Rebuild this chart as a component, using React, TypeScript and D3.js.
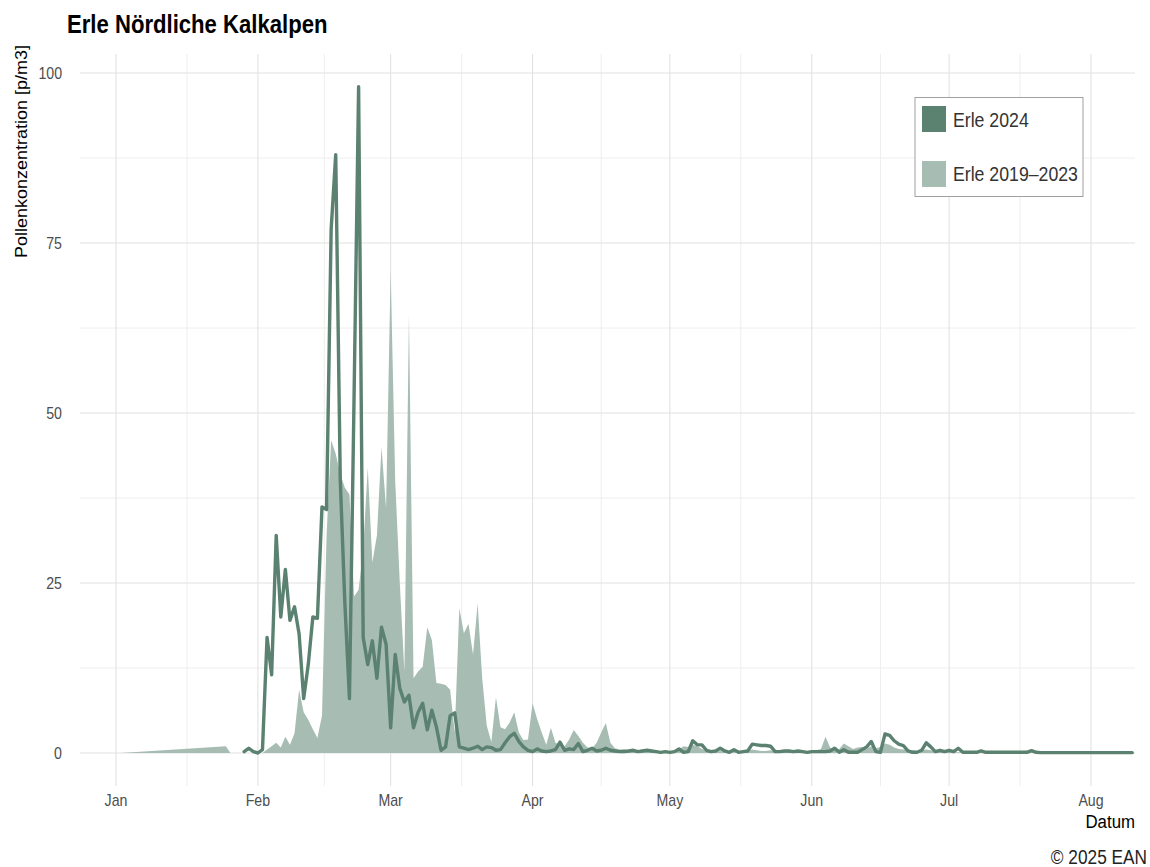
import React from "react";
import * as d3 from "d3";

// ---------- data ----------
const monthLabels = ["Jan", "Feb", "Mar", "Apr", "May", "Jun", "Jul", "Aug"];
const monthStartDays = [0, 31, 60, 91, 121, 152, 182, 213];
const yTicks = [0, 25, 50, 75, 100];
const yMinor = [12.5, 37.5, 62.5, 87.5];

// Erle 2024, daily values starting at day-of-year 28
const erle2024Start = 28;
const erle2024 = [
  0.2, 0.7, 0.2, 0.0, 0.5,
  17, 11.5, 32, 20, 27, 19.5, 21.5, 17.5, 8, 13, 20, 19.8, 36.2, 35.8, 77, 88,
  40, 22, 8, 52, 98, 17, 13, 16.5, 11, 18.5, 16,
  3.7, 14.5, 9.5, 7.5, 8.5, 3.7, 6, 7.3, 3.4, 6.3, 3.8,
  0.4, 0.9, 5.5, 5.9, 0.9, 0.7, 0.5, 0.7, 1.0, 0.5,
  0.9, 0.8, 0.4, 0.5, 1.5, 2.4, 2.9, 1.7, 0.9, 0.4,
  0.2, 0.6, 0.3, 0.2, 0.3, 0.5, 1.6, 0.4, 0.6, 0.5,
  1.4, 0.2, 0.4, 0.7, 0.3, 0.4, 0.7, 0.4, 0.3, 0.2,
  0.2, 0.3, 0.4, 0.2, 0.3, 0.4, 0.3, 0.2, 0.1, 0.2,
  0.1, 0.2, 0.6, 0.1, 0.2, 1.8, 1.2, 1.2, 0.4, 0.2,
  0.3, 0.7, 0.3, 0.1, 0.5, 0.1, 0.2, 0.3, 1.3, 1.2,
  1.1, 1.1, 1.0, 0.2, 0.2, 0.3, 0.3, 0.2, 0.3, 0.2,
  0.1, 0.2, 0.2, 0.2, 0.2, 0.3, 0.7, 0.1, 0.5, 0.1,
  0.1, 0.1, 0.5, 0.9, 1.7, 0.2, 0.1, 2.8, 2.6, 1.8,
  1.3, 1.1, 0.3, 0.1, 0.1, 0.4, 1.5, 0.9, 0.2, 0.4,
  0.2, 0.4, 0.2, 0.7, 0.1, 0.1, 0.1, 0.1, 0.3, 0.1,
  0.1, 0.1, 0.1, 0.1, 0.1, 0.1, 0.1, 0.1, 0.1, 0.35,
  0.1, 0.05, 0.05, 0.05, 0.05, 0.05, 0.05, 0.05, 0.05, 0.05,
  0.05, 0.05, 0.05, 0.05, 0.05, 0.05, 0.05, 0.05, 0.05, 0.05,
  0.05, 0.05,
];

// Erle 2019–2023: sparse early points, then daily values from day 33
const erle5yEarly: [number, number][] = [[1, 0], [24, 1.0], [25, 0], [32, 0]];
const erle5yStart = 33;
const erle5y = [
  0.5, 1.0, 1.5, 0.8, 2.4, 1.2, 2.9,
  9.3, 6, 4.9, 3.5, 2.2, 5.5, 32, 46, 44,
  41, 39, 38, 23, 24, 30, 42, 28, 32, 45, 36,
  71, 40, 25, 12, 64.5, 11, 12, 12.7, 18.5, 16.6, 10.3,
  10.2, 10, 9.3, 3, 21.3, 17.6, 19, 14.5, 22, 11,
  4, 1.6, 8.2, 3.8, 3.5, 4.5, 6, 3, 1.9, 2,
  7.3, 5, 3, 1.2, 3.7, 1.5, 1.2, 1.0, 2, 3.4,
  2.5, 1.5, 0.8, 0.7, 1.5, 3, 4.4, 1.5, 0.7, 0.5,
  0.6, 0.4, 0.5, 0.4, 0.5, 0.6, 0.4, 0.3, 0.3, 0.2,
  0.2, 0.3, 0.5, 1.0, 0.9, 1.2, 1.0, 0.6, 0.4, 0.3,
  0.2, 0.3, 0.2, 0.2, 0.3, 0.2, 0.2, 0.3, 0.5, 0.4,
  0.3, 0.3, 0.4, 0.2, 0.2, 0.3, 0.2, 0.2, 0.3, 0.2,
  0.3, 0.3, 0.4, 0.6, 2.4, 0.8, 0.4, 0.6, 1.4, 1.0,
  0.6, 0.8, 0.9, 0.6, 1.0, 0.7, 0.9, 1.4, 1.2, 0.8,
  0.6, 0.5, 0.5, 0.4, 0.3, 0.4, 0.5, 0.4, 0.3, 0.3,
  0.2, 0.2, 0.1, 0.1, 0.1, 0.1, 0.1, 0.1, 0.1, 0.1,
  0.1, 0.1, 0.1, 0.1, 0.1, 0.1, 0.1, 0.1, 0.1, 0.1,
  0.1, 0.1, 0.1, 0.1, 0.1, 0.1, 0.1, 0.1, 0.1, 0.1,
  0.1, 0.1, 0.1, 0.1, 0.1, 0.1, 0.1, 0.1, 0.1, 0.1,
  0.1, 0.1,
];

const legendLabels = ["Erle 2024", "Erle 2019\u20132023"];

// ---------- styles ----------
const DARK = "#5b8171";
const LIGHT = "#a7bdb3";
const FONT = "'Liberation Sans', Arial, Helvetica, sans-serif";
const SX = 0.885; // horizontal text compression seen in the reference

const W = 1150;
const H = 867;
const panel = { left: 80, right: 1135, top: 54, bottom: 786 };

function T(props: {
  x: number; y: number; size: number; anchor?: string; weight?: string | number;
  fill?: string; rotate?: boolean; children: React.ReactNode;
}) {
  const { x, y, size, anchor = "start", weight = "normal", fill = "#000", rotate = false, children } = props;
  return (
    <text
      transform={`translate(${x},${y}) scale(${SX},1)${rotate ? " rotate(-90)" : ""}`}
      textAnchor={anchor}
      fontSize={size}
      fontWeight={weight}
      fill={fill}
      fontFamily={FONT}
    >
      {children}
    </text>
  );
}

export default function App() {
  const x = d3.scaleLinear().domain([0, 213]).range([116, 1091]);
  const y = d3.scaleLinear().domain([0, 100]).range([753, 73]);

  const linePts: [number, number][] = erle2024.map((v, i) => [erle2024Start + i, v]);
  const areaPts: [number, number][] = [
    ...erle5yEarly,
    ...erle5y.map((v, i) => [erle5yStart + i, v] as [number, number]),
  ];

  const lineGen = d3.line<[number, number]>().x((d) => x(d[0])).y((d) => y(d[1]));
  const areaGen = d3
    .area<[number, number]>()
    .x((d) => x(d[0]))
    .y0(y(0))
    .y1((d) => y(d[1]));

  const minorX = monthStartDays.slice(0, -1).map((d, i) => (d + monthStartDays[i + 1]) / 2);

  return (
    <svg width={W} height={H} style={{ position: "absolute", left: 0, top: 0, background: "#fff" }}>
      <rect x={0} y={0} width={W} height={H} fill="#fff" />
      {/* grid */}
      <g>
        {yMinor.map((t) => (
          <line key={"ym" + t} x1={panel.left} x2={panel.right} y1={y(t)} y2={y(t)} stroke="#ececec" strokeWidth={0.9} />
        ))}
        {minorX.map((d) => (
          <line key={"xm" + d} x1={x(d)} x2={x(d)} y1={panel.top} y2={panel.bottom} stroke="#ececec" strokeWidth={0.9} />
        ))}
        {yTicks.map((t) => (
          <line key={"y" + t} x1={panel.left} x2={panel.right} y1={y(t)} y2={y(t)} stroke="#e2e2e2" strokeWidth={1.1} />
        ))}
        {monthStartDays.map((d) => (
          <line key={"x" + d} x1={x(d)} x2={x(d)} y1={panel.top} y2={panel.bottom} stroke="#e2e2e2" strokeWidth={1.1} />
        ))}
      </g>

      {/* data */}
      <path d={areaGen(areaPts) || ""} fill={LIGHT} stroke="none" />
      <path d={lineGen(linePts) || ""} fill="none" stroke={DARK} strokeWidth={3.4} strokeLinejoin="round" strokeLinecap="round" />

      {/* axes labels */}
      {yTicks.map((t) => (
        <T key={"yl" + t} x={62} y={y(t) + 5.5} size={16} anchor="end" fill="#4d4d4d">
          {t}
        </T>
      ))}
      {monthStartDays.map((d, i) => (
        <T key={"xl" + d} x={x(d)} y={806} size={16} anchor="middle" fill="#4d4d4d">
          {monthLabels[i]}
        </T>
      ))}

      <T x={27} y={45} size={18} anchor="end" rotate>
        Pollenkonzentration [p/m3]
      </T>
      <T x={1135} y={828} size={19} anchor="end">
        Datum
      </T>
      <T x={1147} y={864} size={19.5} anchor="end" fill="#222">
        © 2025 EAN
      </T>

      {/* title */}
      <T x={67} y={33} size={25} weight="bold">
        Erle Nördliche Kalkalpen
      </T>

      {/* legend */}
      <rect x={915} y={97.5} width={168} height={99} fill="#fff" stroke="#a0a0a0" strokeWidth={1} />
      <rect x={922} y={106} width={24} height={26} fill={DARK} />
      <rect x={922} y={161} width={24} height={26} fill={LIGHT} />
      <T x={953} y={127} size={20} fill="#333">
        {legendLabels[0]}
      </T>
      <T x={953} y={181} size={20} fill="#333">
        {legendLabels[1]}
      </T>
    </svg>
  );
}
